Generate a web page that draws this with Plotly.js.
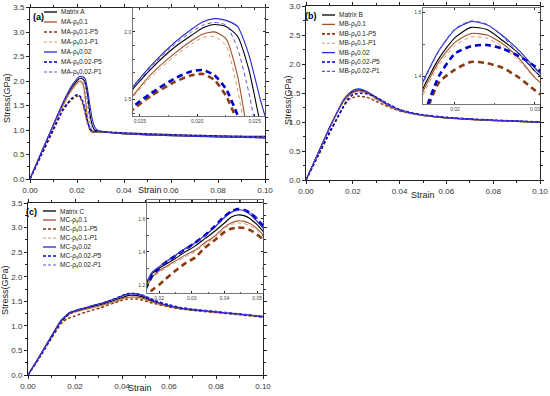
<!DOCTYPE html>
<html><head><meta charset="utf-8">
<script src="https://cdn.plot.ly/plotly-3.0.1.min.js"></script>
<style>html,body{margin:0;padding:0;background:#fff}#chart{width:550px;height:396px}</style>
</head><body><div id="chart"></div>
<script>
// ---------- DATA ----------
const strainA = [0, 0.005, 0.01, 0.014, 0.016, 0.018, 0.0195, 0.0205, 0.0215, 0.0225, 0.0235, 0.0245, 0.0255, 0.0265, 0.0275, 0.029, 0.032, 0.036, 0.04, 0.05, 0.06, 0.07, 0.08, 0.09, 0.1];
const matrixA   = [0, 0.56, 1.11, 1.54, 1.73, 1.885, 1.975, 2.03, 2.055, 2.04, 1.97, 1.72, 1.33, 1.10, 1.00, 0.975, 0.96, 0.94, 0.925, 0.905, 0.89, 0.875, 0.865, 0.855, 0.845];
const MA_01     = [0, 0.55, 1.09, 1.49, 1.69, 1.84, 1.935, 1.985, 2.0, 1.95, 1.68, 1.22, 1.00, 0.955, 0.95, 0.955, 0.95, 0.935, 0.92, 0.9, 0.885, 0.872, 0.862, 0.852, 0.842];
const MA_01_P5  = [0, 0.50, 1.0, 1.40, 1.53, 1.63, 1.68, 1.69, 1.645, 1.53, 1.34, 1.13, 1.01, 0.97, 0.965, 0.965, 0.96, 0.95, 0.94, 0.92, 0.905, 0.89, 0.88, 0.87, 0.865];
const MA_01_P1  = [0, 0.55, 1.08, 1.48, 1.67, 1.82, 1.91, 1.96, 1.965, 1.90, 1.58, 1.15, 0.98, 0.95, 0.95, 0.955, 0.95, 0.94, 0.925, 0.905, 0.89, 0.877, 0.867, 0.857, 0.848];
const MA_002    = [0, 0.56, 1.12, 1.555, 1.755, 1.92, 2.02, 2.075, 2.098, 2.085, 2.04, 1.83, 1.50, 1.22, 1.06, 0.99, 0.965, 0.94, 0.925, 0.9, 0.885, 0.87, 0.86, 0.85, 0.84];
const MA_002_P5 = [0, 0.52, 1.03, 1.42, 1.55, 1.655, 1.71, 1.718, 1.68, 1.58, 1.39, 1.17, 1.03, 0.98, 0.97, 0.97, 0.96, 0.95, 0.94, 0.92, 0.905, 0.89, 0.88, 0.87, 0.865];
const MA_002_P1 = [0, 0.55, 1.10, 1.545, 1.745, 1.905, 2.0, 2.05, 2.07, 2.05, 1.88, 1.55, 1.15, 1.0, 0.97, 0.97, 0.96, 0.945, 0.93, 0.91, 0.895, 0.88, 0.87, 0.86, 0.85];

const strainB = [0, 0.005, 0.01, 0.014, 0.016, 0.018, 0.02, 0.022, 0.024, 0.026, 0.028, 0.03, 0.033, 0.036, 0.04, 0.045, 0.05, 0.06, 0.07, 0.08, 0.09, 0.1];
const matrixB   = [0, 0.45, 0.90, 1.22, 1.361, 1.455, 1.52, 1.552, 1.545, 1.51, 1.47, 1.415, 1.345, 1.275, 1.205, 1.15, 1.115, 1.07, 1.045, 1.025, 1.01, 0.995];
const MB_01     = [0, 0.45, 0.89, 1.21, 1.351, 1.445, 1.505, 1.533, 1.528, 1.50, 1.455, 1.395, 1.33, 1.265, 1.2, 1.148, 1.112, 1.068, 1.043, 1.023, 1.008, 0.993];
const MB_01_P5  = [0, 0.40, 0.80, 1.11, 1.26, 1.38, 1.42, 1.444, 1.44, 1.425, 1.395, 1.355, 1.30, 1.25, 1.19, 1.145, 1.112, 1.07, 1.046, 1.027, 1.012, 0.997];
const MB_01_P1  = [0, 0.44, 0.88, 1.20, 1.34, 1.435, 1.495, 1.522, 1.518, 1.49, 1.448, 1.392, 1.328, 1.265, 1.2, 1.15, 1.114, 1.07, 1.045, 1.025, 1.01, 0.995];
const MB_002    = [0, 0.45, 0.90, 1.23, 1.382, 1.48, 1.545, 1.570, 1.56, 1.525, 1.48, 1.425, 1.35, 1.28, 1.21, 1.155, 1.12, 1.075, 1.05, 1.03, 1.015, 1.0];
const MB_002_P5 = [0, 0.41, 0.82, 1.12, 1.27, 1.40, 1.47, 1.493, 1.497, 1.485, 1.462, 1.43, 1.36, 1.29, 1.215, 1.16, 1.125, 1.08, 1.053, 1.033, 1.017, 1.0];
const MB_002_P1 = [0, 0.44, 0.89, 1.22, 1.375, 1.48, 1.548, 1.572, 1.562, 1.522, 1.47, 1.415, 1.345, 1.28, 1.21, 1.157, 1.12, 1.075, 1.05, 1.03, 1.015, 1.0];

const strainC = [0, 0.005, 0.01, 0.014, 0.0165, 0.018, 0.02, 0.022, 0.025, 0.028, 0.031, 0.034, 0.037, 0.04, 0.042, 0.044, 0.046, 0.048, 0.05, 0.052, 0.055, 0.06, 0.065, 0.07, 0.08, 0.09, 0.1];
const matrixC   = [0, 0.39, 0.79, 1.10, 1.22, 1.27, 1.30, 1.325, 1.36, 1.40, 1.435, 1.48, 1.525, 1.575, 1.61, 1.624, 1.62, 1.6, 1.565, 1.522, 1.47, 1.40, 1.355, 1.325, 1.28, 1.235, 1.185];
const MC_01     = [0, 0.38, 0.78, 1.08, 1.20, 1.25, 1.285, 1.31, 1.345, 1.38, 1.41, 1.455, 1.495, 1.55, 1.575, 1.588, 1.585, 1.57, 1.54, 1.50, 1.455, 1.39, 1.35, 1.32, 1.275, 1.23, 1.18];
const MC_01_P5  = [0, 0.36, 0.75, 1.04, 1.14, 1.17, 1.20, 1.235, 1.285, 1.33, 1.365, 1.425, 1.47, 1.52, 1.54, 1.548, 1.545, 1.53, 1.505, 1.475, 1.44, 1.385, 1.345, 1.315, 1.27, 1.225, 1.175];
const MC_01_P1  = [0, 0.37, 0.77, 1.07, 1.19, 1.24, 1.275, 1.30, 1.335, 1.37, 1.40, 1.445, 1.485, 1.54, 1.565, 1.575, 1.572, 1.556, 1.528, 1.49, 1.45, 1.39, 1.35, 1.32, 1.275, 1.23, 1.18];
const MC_002    = [0, 0.39, 0.80, 1.11, 1.23, 1.28, 1.31, 1.34, 1.38, 1.42, 1.455, 1.50, 1.55, 1.61, 1.64, 1.655, 1.65, 1.625, 1.585, 1.54, 1.48, 1.41, 1.36, 1.33, 1.285, 1.24, 1.19];
const MC_002_P5 = [0, 0.37, 0.77, 1.08, 1.20, 1.26, 1.30, 1.335, 1.375, 1.415, 1.455, 1.50, 1.555, 1.615, 1.645, 1.66, 1.655, 1.635, 1.60, 1.555, 1.495, 1.425, 1.37, 1.335, 1.29, 1.24, 1.19];
const MC_002_P1 = [0, 0.38, 0.79, 1.10, 1.22, 1.275, 1.305, 1.335, 1.375, 1.415, 1.45, 1.495, 1.545, 1.605, 1.635, 1.65, 1.65, 1.635, 1.605, 1.565, 1.51, 1.435, 1.38, 1.345, 1.295, 1.245, 1.195];

const namesA = ['Matrix A', 'MA-ρ<sub>s</sub>0.1', 'MA-ρ<sub>s</sub>0.1-P5', 'MA-ρ<sub>s</sub>0.1-P1', 'MA-ρ<sub>s</sub>0.02', 'MA-ρ<sub>s</sub>0.02-P5', 'MA-ρ<sub>s</sub>0.02-P1'];
const namesB = ['Matrix B', 'MB-ρ<sub>s</sub>0.1', 'MB-ρ<sub>s</sub>0.1-<i>P</i>5', 'MB-ρ<sub>s</sub>0.1-<i>P</i>1', 'MB-ρ<sub>s</sub>0.02', 'MB-ρ<sub>s</sub>0.02-<i>P</i>5', 'MB-ρ<sub>s</sub>0.02-<i>P</i>1'];
const namesC = ['Matrix C', 'MC-ρ<sub>s</sub>0.1', 'MC-ρ<sub>s</sub>0.1-<i>P</i>5', 'MC-ρ<sub>s</sub>0.1-<i>P</i>1', 'MC-ρ<sub>s</sub>0.02', 'MC-ρ<sub>s</sub>0.02-<i>P</i>5', 'MC-ρ<sub>s</sub>0.02-<i>P</i>1'];
const panelLabels = ['(a)', '(b)', '(c)'];
const xTitle = 'Strain';
const yTitle = 'Stress(GPa)';

// ---------- STYLE ----------
const W = 550, H = 396;
const PX = p => p / W, PY = p => 1 - p / H;
const FONT = 'Liberation Sans, Arial, sans-serif';
const styles = [
  {color: '#000000', dash: 'solid', w: 1.1, wi: 1.1, di: 'solid'},
  {color: '#a0522d', dash: 'solid', w: 1.1, wi: 1.1, di: 'solid'},
  {color: '#8b3a0f', dash: '3px,2px', w: 1.5, wi: 2.6, di: '6px,4px'},
  {color: '#cf9a6a', dash: '3px,2px', w: 0.9, wi: 1.0, di: '4px,3px'},
  {color: '#2a2ad0', dash: 'solid', w: 1.1, wi: 1.1, di: 'solid'},
  {color: '#0000c8', dash: '3px,2px', w: 1.5, wi: 2.6, di: '6px,4px'},
  {color: '#5555d8', dash: '3px,2px', w: 0.9, wi: 1.0, di: '4px,3px'}
];

const panels = [
  {x: strainA, ys: [matrixA, MA_01, MA_01_P5, MA_01_P1, MA_002, MA_002_P5, MA_002_P1], names: namesA,
   m: ['x', 'y'], i: ['x2', 'y2'],
   mdx: [30, 265], mdy: [7.5, 179], yr: [0, 3.5],
   idx: [133, 265], idy: [7.5, 116], ixr: [0.0144, 0.0259], iyr: [1.38, 2.18], ixd: 0.005, ixf: '.3f', iyd: 0.5, ixm: 0.0025, iym: 0.1,
   leg: {x0: 44, x1: 57, tx: 59, y0: 12, dy: 10}, lab: [38, 17], xt: [150, 190], yt: [7, 98]},
  {x: strainB, ys: [matrixB, MB_01, MB_01_P5, MB_01_P1, MB_002, MB_002_P5, MB_002_P1], names: namesB,
   m: ['x3', 'y3'], i: ['x4', 'y4'],
   mdx: [306, 540], mdy: [6, 180], yr: [0, 3.0],
   idx: [423, 540], idy: [8, 104], ixr: [0.016, 0.03063], iyr: [1.3125, 1.6125], ixd: 0.01, ixf: '.2f', iyd: 0.2, ixm: 0.005, iym: 0.1,
   leg: {x0: 322, x1: 335, tx: 337, y0: 15, dy: 9.4}, lab: [311, 16], xt: [423, 195], yt: [288, 100]},
  {x: strainC, ys: [matrixC, MC_01, MC_01_P5, MC_01_P1, MC_002, MC_002_P5, MC_002_P1], names: namesC,
   m: ['x5', 'y5'], i: ['x6', 'y6'],
   mdx: [28, 263], mdy: [203, 375], yr: [0, 3.5],
   idx: [147, 263], idy: [200, 293], ixr: [0.0163, 0.0518], iyr: [1.15, 1.715], ixd: 0.01, ixf: '.2f', iyd: 0.2, ixm: 0.005, iym: 0.1,
   leg: {x0: 43, x1: 56, tx: 58, y0: 211, dy: 9}, lab: [31, 212], xt: [140, 388], yt: [5, 290]}
];

const traces = [];
const layout = {
  width: W, height: H, margin: {l: 0, r: 0, t: 0, b: 0},
  paper_bgcolor: '#ffffff', plot_bgcolor: 'rgba(0,0,0,0)',
  showlegend: false, font: {family: FONT, color: '#222'},
  shapes: [], annotations: []
};

function axKey(id) { return id.replace('x', 'xaxis').replace('y', 'yaxis'); }
function baseAxis(extra) {
  return Object.assign({
    showline: true, linecolor: '#222', linewidth: 1, mirror: 'ticks',
    showgrid: false, zeroline: false, tickcolor: '#222', fixedrange: true
  }, extra);
}

panels.forEach((p, pi) => {
  p.ys.forEach((y, si) => {
    const s = styles[si];
    traces.push({x: p.x, y: y, xaxis: p.m[0], yaxis: p.m[1], mode: 'lines', hoverinfo: 'skip',
      line: {color: s.color, width: s.w, dash: s.dash, shape: 'spline', smoothing: 0.4}});
    traces.push({x: p.x, y: y, xaxis: p.i[0], yaxis: p.i[1], mode: 'lines', hoverinfo: 'skip', cliponaxis: true,
      line: {color: s.color, width: s.wi, dash: s.di, shape: 'spline', smoothing: 0.6}});
  });
  // main axes
  layout[axKey(p.m[0])] = baseAxis({domain: [PX(p.mdx[0]), PX(p.mdx[1])], anchor: p.m[1], range: [0, 0.1],
    dtick: 0.02, tick0: 0, tickformat: '.2f', ticks: 'outside', ticklen: 3,
    minor: {dtick: 0.01, ticks: 'outside', ticklen: 2, tickcolor: '#222'},
    tickfont: {size: 8, family: FONT, color: '#333'}});
  layout[axKey(p.m[1])] = baseAxis({domain: [PY(p.mdy[1]), PY(p.mdy[0])], anchor: p.m[0], range: p.yr,
    dtick: 0.5, tick0: 0, tickformat: '.1f', ticks: 'outside', ticklen: 3,
    minor: {dtick: 0.25, ticks: 'outside', ticklen: 2, tickcolor: '#222'},
    tickfont: {size: 8, family: FONT, color: '#333'}});
  // inset axes
  layout[axKey(p.i[0])] = baseAxis({domain: [PX(p.idx[0]), PX(p.idx[1])], anchor: p.i[1], range: p.ixr,
    dtick: p.ixd, tick0: 0, tickformat: p.ixf, ticks: 'inside', ticklen: 2, linewidth: 0.8, linecolor: '#555',
    minor: {dtick: p.ixm, ticks: 'inside', ticklen: 1.5, tickcolor: '#555'},
    tickfont: {size: 5, family: FONT, color: '#444'}});
  layout[axKey(p.i[1])] = baseAxis({domain: [PY(p.idy[1]), PY(p.idy[0])], anchor: p.i[0], range: p.iyr,
    dtick: p.iyd, tick0: 0, tickformat: '.1f', ticks: 'inside', ticklen: 2, linewidth: 0.8, linecolor: '#555',
    minor: {dtick: p.iym, ticks: 'inside', ticklen: 1.5, tickcolor: '#555'},
    tickfont: {size: 5, family: FONT, color: '#444'}});
  // legend (drawn manually)
  p.names.forEach((nm, si) => {
    const s = styles[si];
    const yy = p.leg.y0 + si * p.leg.dy;
    layout.shapes.push({type: 'line', xref: 'paper', yref: 'paper', x0: PX(p.leg.x0), x1: PX(p.leg.x1), y0: PY(yy), y1: PY(yy),
      line: {color: s.color, width: s.w + 0.2, dash: s.dash}});
    layout.annotations.push({xref: 'paper', yref: 'paper', x: PX(p.leg.tx), y: PY(yy), xanchor: 'left', yanchor: 'middle',
      text: nm, showarrow: false, font: {size: 6.5, family: FONT, color: '#222'}});
  });
  layout.annotations.push({xref: 'paper', yref: 'paper', x: PX(p.lab[0]), y: PY(p.lab[1]), xanchor: 'center', yanchor: 'middle',
    text: '<b>' + panelLabels[pi] + '</b>', showarrow: false, font: {size: 9, family: FONT, color: '#000'}});
  layout.annotations.push({xref: 'paper', yref: 'paper', x: PX(p.xt[0]), y: PY(p.xt[1]), xanchor: 'center', yanchor: 'middle',
    text: xTitle, showarrow: false, font: {size: 9, family: FONT, color: '#222'}});
  layout.annotations.push({xref: 'paper', yref: 'paper', x: PX(p.yt[0]), y: PY(p.yt[1]), xanchor: 'center', yanchor: 'middle',
    text: yTitle, textangle: -90, showarrow: false, font: {size: 9, family: FONT, color: '#222'}});
});

Plotly.newPlot('chart', traces, layout, {staticPlot: true, displayModeBar: false});
</script>
</body></html>
